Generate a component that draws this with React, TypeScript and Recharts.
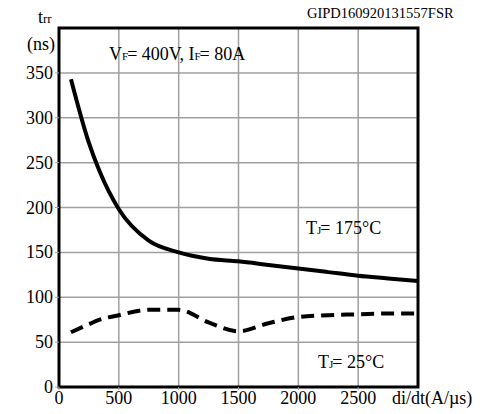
import * as React from 'react'
import {
  CartesianGrid,
  ComposedChart,
  Line,
  ReferenceArea,
  XAxis,
  YAxis,
} from 'recharts'

const diDt = [100, 250, 340, 500, 750, 1000, 1250, 1500, 1750, 2000, 2250, 2500, 2750, 3000]
const trr175 = [343, 272, 240, 198, 163, 150, 143, 140, 136, 132, 128, 124, 121, 118]
const trr25 = [61, 70, 75, 80, 86, 86, 72, 62, 71, 78, 80, 81, 82, 82]

const xTicks = [0, 500, 1000, 1500, 2000, 2500]
const yTicks = [0, 50, 100, 150, 200, 250, 300, 350]

const data = diDt.map((x, i) => ({ x, hot: trr175[i], cold: trr25[i] }))

const FONT = '"Liberation Serif", "Times New Roman", serif'

const sub: React.CSSProperties = { fontSize: 11, letterSpacing: -1 }

const renderXTick = (props: any) => (
  <text
    key={`x-${props.payload.value}`}
    x={props.x}
    y={props.y + 13}
    textAnchor="middle"
    style={{ fontFamily: FONT, fontSize: 18, fill: '#000' }}
  >
    {props.payload.value}
  </text>
)

const renderYTick = (props: any) => (
  <text
    key={`y-${props.payload.value}`}
    x={props.x}
    y={props.y + 6}
    textAnchor="end"
    style={{ fontFamily: FONT, fontSize: 18, fill: '#000' }}
  >
    {props.payload.value}
  </text>
)

export default function App() {
  const text = (left: number, top: number, content: React.ReactNode, size = 18) => (
    <div
      style={{
        position: 'absolute',
        left,
        top,
        fontFamily: FONT,
        fontSize: size,
        color: '#000',
        whiteSpace: 'nowrap',
        lineHeight: 1,
      }}
    >
      {content}
    </div>
  )

  return (
    <div
      style={{
        position: 'absolute',
        left: 0,
        top: 0,
        width: 488,
        height: 414,
        background: '#fff',
        fontFamily: FONT,
      }}
    >
      <ComposedChart
        width={488}
        height={414}
        data={data}
        margin={{ top: 28, right: 70, left: 0, bottom: 0 }}
      >
        <CartesianGrid stroke="#a0a0a0" strokeWidth={1.5} />
        <XAxis
          type="number"
          dataKey="x"
          domain={[0, 3000]}
          ticks={xTicks}
          height={27}
          tickSize={3}
          tickMargin={1}
          tickLine={{ stroke: '#a0a0a0' }}
          axisLine={false}
          tick={renderXTick}
        />
        <YAxis
          type="number"
          domain={[0, 400]}
          ticks={yTicks}
          width={59}
          tickSize={4}
          tickMargin={2}
          tickLine={{ stroke: '#a0a0a0' }}
          axisLine={false}
          tick={renderYTick}
        />
        <ReferenceArea
          x1={0}
          x2={3000}
          y1={0}
          y2={400}
          fill="none"
          stroke="#000"
          strokeWidth={3}
          ifOverflow="extendDomain"
        />
        <Line
          type="monotone"
          dataKey="hot"
          stroke="#000"
          strokeWidth={4}
          dot={false}
          isAnimationActive={false}
        />
        <Line
          type="monotone"
          dataKey="cold"
          stroke="#000"
          strokeWidth={4}
          strokeDasharray="13 7"
          dot={false}
          isAnimationActive={false}
        />
      </ComposedChart>
      {text(307, 6, 'GIPD160920131557FSR', 14.5)}
      {text(38, 8, <span>t<span style={{ fontSize: 13 }}>rr</span></span>)}
      {text(27, 35, '(ns)')}
      {text(109, 45, <span>V<span style={sub}>F</span>= 400V, I<span style={sub}>F</span>= 80A</span>)}
      {text(306, 219, <span>T<span style={sub}>J</span>= 175°C</span>)}
      {text(318, 353, <span>T<span style={sub}>J</span>= 25°C</span>)}
      {text(392, 389, 'di/dt(A/µs)')}
    </div>
  )
}
